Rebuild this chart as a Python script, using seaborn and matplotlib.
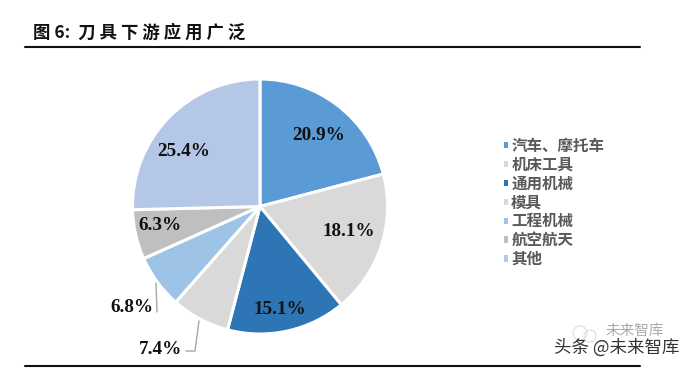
import matplotlib
matplotlib.use("Agg")
import matplotlib.pyplot as plt
from matplotlib.lines import Line2D
from matplotlib.patches import Circle
import seaborn as sns

categories = ["汽车、摩托车", "机床工具", "通用机械", "模具", "工程机械", "航空航天", "其他"]
shares = [20.9, 18.1, 15.1, 7.4, 6.8, 6.3, 25.4]
colors = ["#5B9BD5", "#D9D9D9", "#2E75B6", "#D9D9D9", "#9DC3E6", "#BFBFBF", "#B4C7E7"]
title_text = "图 6:  刀 具 下 游 应 用 广 泛"
watermark_back = "未来智库"
watermark_front = "头条 @未来智库"

W, H = 692, 369
CX, CY, R = 260, 206.5, 127.5
label_px = [(319, 136), (349, 232), (280, 309), (161, 349), (132, 307), (160, 226), (184, 152)]

sns.set_theme(style="white")
CJK = ["Noto Sans CJK SC", "DejaVu Sans"]
plt.rcParams["font.family"] = CJK

fig = plt.figure(figsize=(W / 100, H / 100), dpi=100, facecolor="white")
fx = lambda x: x / W
fy = lambda y: 1 - y / H

ax = fig.add_axes([fx(CX - R), fy(CY + R), 2 * R / W, 2 * R / H])
wedges, _, autotexts = ax.pie(
    shares, colors=colors, startangle=90, counterclock=False, radius=1,
    autopct="%.1f%%", wedgeprops=dict(edgecolor="white", linewidth=2.2),
)
ax.set_xlim(-1, 1)
ax.set_ylim(-1, 1)
for t, (px, py) in zip(autotexts, label_px):
    t.set_position(((px - CX) / R, (CY - py) / R))
    t.set_clip_on(False)
    t.set_fontfamily("Liberation Serif")
    t.set_fontweight("bold")
    t.set_fontsize(13.8)
    t.set_color("#111111")
    t.set_ha("center")
    t.set_va("center")

leg = fig.legend(
    wedges, categories, loc="center left",
    bbox_to_anchor=(fx(504), fy(202.5)), frameon=False,
    prop=dict(family=CJK, weight="bold", size=11.2),
    labelcolor="#595959", handlelength=0.26, handleheight=0.26,
    handletextpad=0.2, labelspacing=0.185, borderpad=0, borderaxespad=0,
)
for h in leg.legend_handles:
    h.set_edgecolor("none")

# title, rules, leader lines
fig.text(fx(33), fy(33), title_text, fontsize=12.5, fontweight="bold",
         color="#111111", ha="left", va="center", family=CJK)
for y, x1 in ((47, 640), (366, 640)):
    fig.add_artist(Line2D([fx(25), fx(x1)], [fy(y), fy(y)], color="#111111", lw=1.5))
leader = "#A6A6A6"
fig.add_artist(Line2D([fx(156), fx(157)], [fy(283), fy(312)], color=leader, lw=1))
fig.add_artist(Line2D([fx(199), fx(195), fx(186)], [fy(321), fy(351), fy(351)], color=leader, lw=1))

# watermark
for (x, y, r) in ((580, 333, 7), (590, 336, 6)):
    fig.add_artist(Circle((x, H - y), r, transform=None, fill=False, ec="#DDDDDD", lw=0.8))
fig.text(fx(605), fy(331), watermark_back, fontsize=10.5, color="#AAAAAA",
         ha="left", va="center", family=CJK)
fig.text(fx(554), fy(348), watermark_front, fontsize=12.6, color="#333333",
         ha="left", va="center", family=CJK)

fig.savefig("out.png", dpi=100, facecolor="white")
